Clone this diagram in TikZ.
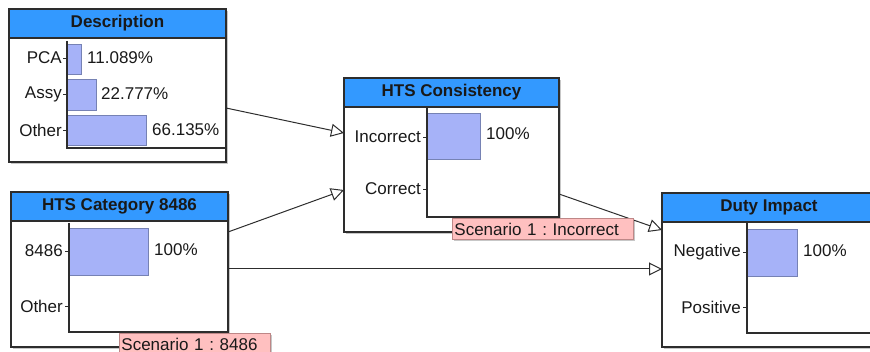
\documentclass[tikz,border=0pt]{standalone}
\usepackage{fontspec}
\setmainfont{Liberation Sans}
\usetikzlibrary{arrows.meta,shadows}
\definecolor{hdr}{RGB}{51,153,255}
\definecolor{barfill}{RGB}{166,178,248}
\definecolor{barline}{RGB}{118,130,180}
\definecolor{scenfill}{RGB}{255,192,192}
\definecolor{scenline}{RGB}{190,135,135}
\definecolor{frame}{RGB}{45,45,45}
\definecolor{ink}{RGB}{25,25,25}
\frenchspacing
\tikzset{
  netbox/.style={draw=frame, line width=1.2pt, fill=white, anchor=north west, inner sep=0pt, outer sep=0pt,
    drop shadow={shadow xshift=2pt, shadow yshift=-2pt, fill=black, opacity=0.22}},
  hdrbox/.style={draw=frame, line width=1.2pt, fill=hdr, anchor=north west, inner sep=0pt, outer sep=0pt,
    text=ink, font=\fontsize{17}{19}\selectfont\bfseries},
  lbl/.style={anchor=east, inner sep=0pt, text=ink, font=\fontsize{17}{19}\selectfont},
  pct/.style={anchor=west, inner sep=0pt, text=ink, font=\fontsize{17}{19}\selectfont},
  axisline/.style={draw=frame, line width=1.1pt},
  tick/.style={draw=frame, line width=0.9pt},
  bar/.style={fill=barfill, draw=barline, line width=0.9pt},
  scen/.style={fill=scenfill, draw=scenline, line width=0.9pt, anchor=north west, inner xsep=2pt, inner ysep=0pt,
    minimum height=21pt, align=left, text=ink, font=\fontsize{17}{19}\selectfont,
    drop shadow={shadow xshift=2pt, shadow yshift=-2pt, fill=black, opacity=0.22}},
  edge/.style={draw=frame, line width=1pt, -{Triangle[open, length=13pt, width=13pt, line width=1pt]}}
}
\begin{document}
\begin{tikzpicture}[x=1pt, y=-1pt]
\useasboundingbox (0,0) rectangle (870,352);

% ---------- boxes ----------
\node[netbox, minimum width=217pt, minimum height=153pt] (desc) at (9,9) {};
\node[hdrbox, minimum width=217pt, minimum height=29pt] (descH) at (9,9) {Description};

\node[netbox, minimum width=217pt, minimum height=155pt] (cat) at (11,192) {};
\node[hdrbox, minimum width=217pt, minimum height=29pt] (catH) at (11,192) {HTS Category 8486};

\node[netbox, minimum width=215pt, minimum height=154pt] (cons) at (344,78) {};
\node[hdrbox, minimum width=215pt, minimum height=29pt] (consH) at (344,78) {HTS Consistency};

\node[netbox, minimum width=214pt, minimum height=154pt] (duty) at (662,193) {};
\node[hdrbox, minimum width=214pt, minimum height=29pt] (dutyH) at (662,193) {Duty Impact};

% ---------- connectors ----------
\draw[edge] ([yshift=-99pt]desc.north east) -- ([yshift=-55pt]cons.north west);
\draw[edge] ([yshift=-40pt]cat.north east) -- ([yshift=-112pt]cons.north west);
\draw[edge] ([yshift=-77pt]cat.north east) -- ([yshift=-76pt]duty.north west);
\draw[edge] ([yshift=-116pt]cons.north east) -- ([yshift=-37pt]duty.north west);

% ---------- Description chart ----------
\fill[bar] (67,44) rectangle (81,74);
\fill[bar] (67,79) rectangle (96,110);
\fill[bar] (67,115) rectangle (146,145);
\draw[axisline] (67,41) -- (67,148) -- (226,148);
\draw[tick] (63,58) -- (67,58);
\draw[tick] (63,94) -- (67,94);
\draw[tick] (63,130) -- (67,130);
\node[lbl] (descL1) at (62,58) {PCA};
\node[lbl] (descL2) at (62,94) {Assy};
\node[lbl] (descL3) at (62,130) {Other};
\node[pct] (descP1) at (87,58) {11.089\%};
\node[pct] (descP2) at (101,94) {22.777\%};
\node[pct] (descP3) at (152,130) {66.135\%};

% ---------- HTS Category chart ----------
\fill[bar] (69,228) rectangle (148,275);
\draw[axisline] (69,223) -- (69,332) -- (228,332);
\draw[tick] (65,251) -- (69,251);
\draw[tick] (65,306) -- (69,306);
\node[lbl] (catL1) at (63,251) {8486};
\node[lbl] (catL2) at (63,306) {Other};
\node[pct] (catP1) at (154,250) {100\%};
\node[scen, text width=147pt] (catS) at (119,333) {Scenario 1 : 8486};

% ---------- HTS Consistency chart ----------
\fill[bar] (427,113) rectangle (480,159);
\draw[axisline] (427,108) -- (427,217) -- (559,217);
\draw[tick] (423,137) -- (427,137);
\draw[tick] (423,189) -- (427,189);
\node[lbl] (consL1) at (421,137) {Incorrect};
\node[lbl] (consL2) at (421,189) {Correct};
\node[pct] (consP1) at (486,134) {100\%};
\node[scen, text width=177pt] (consS) at (452,218) {Scenario 1 : Incorrect};

% ---------- Duty Impact chart ----------
\fill[bar] (747,229) rectangle (797,276);
\draw[axisline] (747,223) -- (747,333) -- (876,333);
\draw[tick] (743,252) -- (747,252);
\draw[tick] (743,307) -- (747,307);
\node[lbl] (dutyL1) at (741,252) {Negative};
\node[lbl] (dutyL2) at (741,307) {Positive};
\node[pct] (dutyP1) at (803,251) {100\%};
\end{tikzpicture}
\end{document}
